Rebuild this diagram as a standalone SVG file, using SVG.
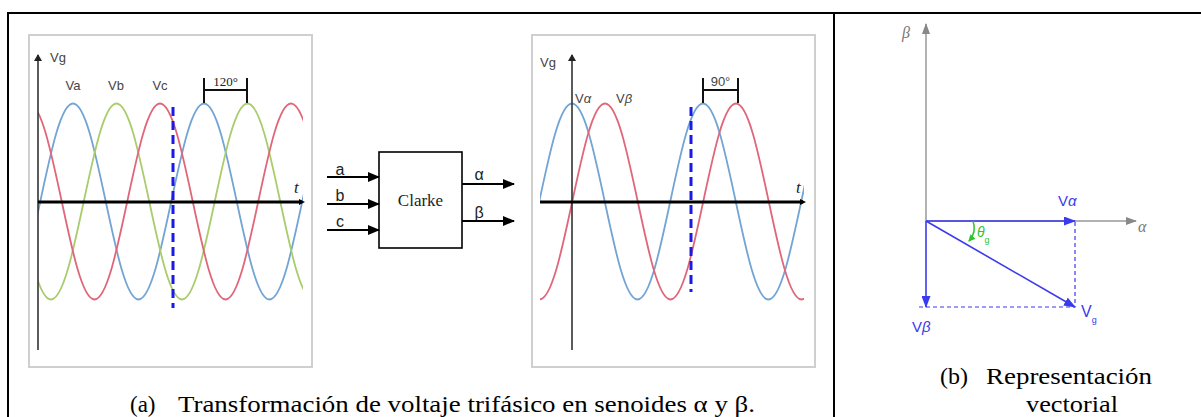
<svg xmlns="http://www.w3.org/2000/svg" xmlns:xlink="http://www.w3.org/1999/xlink" width="1201" height="417" viewBox="0 0 1201 417">
<style>
.frame{stroke:#000;stroke-width:2;fill:none}
.pbox{fill:#fff;stroke:#cfcfcf;stroke-width:2}
.wave{fill:none;stroke-width:1.8;vector-effect:non-scaling-stroke}
.sans{font-family:"Liberation Sans",Arial,sans-serif}
.serif{font-family:"Liberation Serif","Times New Roman",serif}
.lbl{font-size:13px;fill:#444}
.taxis{stroke:#000;stroke-width:3;fill:none}
.vaxis{stroke:#333;stroke-width:1.6;fill:none}
.dash{stroke:#1a1ae6;stroke-width:3;stroke-dasharray:9 5;fill:none}
.brk{stroke:#111;stroke-width:2;fill:none}
.conn{stroke:#000;stroke-width:2;fill:none}
.blue{stroke:#3a3aee;stroke-width:1.6;fill:none}
.bdash{stroke:#3a3aee;stroke-width:1.2;stroke-dasharray:4 3;fill:none}
.gaxis{stroke:#999;stroke-width:1.5;fill:none}
.cap{font-size:23px;fill:#000}
</style>
<defs>
<path id="cw" class="wave" d="M-8,-1 c0.362,0 0.666,0.475 1,1 c0.334,0.525 0.638,1 1,1 c0.362,0 0.666,-0.475 1,-1 c0.334,-0.525 0.638,-1 1,-1 c0.362,0 0.666,0.475 1,1 c0.334,0.525 0.638,1 1,1 c0.362,0 0.666,-0.475 1,-1 c0.334,-0.525 0.638,-1 1,-1 c0.362,0 0.666,0.475 1,1 c0.334,0.525 0.638,1 1,1 c0.362,0 0.666,-0.475 1,-1 c0.334,-0.525 0.638,-1 1,-1 c0.362,0 0.666,0.475 1,1 c0.334,0.525 0.638,1 1,1 c0.362,0 0.666,-0.475 1,-1 c0.334,-0.525 0.638,-1 1,-1 c0.362,0 0.666,0.475 1,1 c0.334,0.525 0.638,1 1,1 c0.362,0 0.666,-0.475 1,-1 c0.334,-0.525 0.638,-1 1,-1"/>
<clipPath id="clipL"><rect x="38" y="60" width="265" height="290"/></clipPath>
<clipPath id="clipR"><rect x="540" y="60" width="264" height="290"/></clipPath>
<marker id="aBlk" markerUnits="userSpaceOnUse" markerWidth="12" markerHeight="10" refX="11" refY="5" orient="auto"><path d="M0,0 L12,5 L0,10 z" fill="#000"/></marker>
<marker id="aAx" markerUnits="userSpaceOnUse" markerWidth="7" markerHeight="8" refX="6" refY="4" orient="auto"><path d="M0,0 L7,4 L0,8 z" fill="#222"/></marker>
<marker id="aT" markerUnits="userSpaceOnUse" markerWidth="6" markerHeight="6" refX="3" refY="3" orient="auto"><path d="M0,0 L6,3 L0,6 z" fill="#000"/></marker>
<marker id="aBlue" markerUnits="userSpaceOnUse" markerWidth="12" markerHeight="9" refX="11" refY="4.5" orient="auto"><path d="M0,0 L12,4.5 L0,9 z" fill="#3a3aee"/></marker>
<marker id="aGray" markerUnits="userSpaceOnUse" markerWidth="11" markerHeight="8" refX="10" refY="4" orient="auto"><path d="M0,0 L11,4 L0,8 z" fill="#888"/></marker>
<marker id="aGreen" markerUnits="userSpaceOnUse" markerWidth="7" markerHeight="7" refX="6" refY="3.5" orient="auto"><path d="M0,0 L7,3.5 L0,7 z" fill="#2fc42f"/></marker>
</defs>

<rect x="0" y="0" width="1201" height="417" fill="#fff"/>

<g id="frame">
<line class="frame" x1="8" y1="13" x2="1201" y2="13"/>
<line class="frame" x1="8" y1="12" x2="8" y2="417"/>
<line class="frame" x1="834" y1="12" x2="834" y2="417"/>
</g>

<g id="plot-abc">
<rect class="pbox" x="29" y="35" width="283" height="332"/>
<g clip-path="url(#clipL)">
<use xlink:href="#cw" transform="translate(73,201.5) scale(32.75,98)" stroke="#72a4d4"/>
<use xlink:href="#cw" transform="translate(116.5,201.5) scale(32.75,98)" stroke="#a9cc6c"/>
<use xlink:href="#cw" transform="translate(160,201.5) scale(32.75,98)" stroke="#e0677a"/>
</g>
<line class="vaxis" x1="38" y1="350" x2="38" y2="55" marker-end="url(#aAx)"/>
<line class="taxis" x1="38" y1="202" x2="302" y2="202" marker-end="url(#aT)"/>
<line class="dash" x1="173" y1="107" x2="173" y2="308"/>
<line class="brk" x1="204" y1="78" x2="204" y2="103"/>
<line class="brk" x1="247" y1="78" x2="247" y2="103"/>
<line class="brk" x1="204" y1="90" x2="247" y2="90"/>
<text class="serif" x="225.5" y="86" font-size="13" text-anchor="middle" fill="#222">120°</text>
<text class="sans lbl" x="50" y="62">Vg</text>
<text class="sans lbl" x="73" y="90" text-anchor="middle">Va</text>
<text class="sans lbl" x="116" y="90" text-anchor="middle">Vb</text>
<text class="sans lbl" x="160" y="90" text-anchor="middle">Vc</text>
<text class="serif" x="294" y="193" font-size="17" font-style="italic" fill="#222">t</text>
</g>

<g id="clarke">
<rect x="379" y="152" width="83" height="96" fill="#fff" stroke="#000" stroke-width="1.6"/>
<text class="serif" x="420.5" y="206" font-size="17" text-anchor="middle" fill="#222">Clarke</text>
<text class="sans" x="340" y="175" font-size="16" text-anchor="middle" fill="#222">a</text>
<text class="sans" x="340" y="201" font-size="16" text-anchor="middle" fill="#222">b</text>
<text class="sans" x="340" y="227" font-size="16" text-anchor="middle" fill="#222">c</text>
<text class="sans" x="479" y="180" font-size="16" text-anchor="middle" fill="#222">α</text>
<text class="sans" x="479" y="218" font-size="16" text-anchor="middle" fill="#222">β</text>
</g>

<g id="connectors">
<line class="conn" x1="327" y1="177" x2="379" y2="177" marker-end="url(#aBlk)"/>
<line class="conn" x1="327" y1="204" x2="379" y2="204" marker-end="url(#aBlk)"/>
<line class="conn" x1="327" y1="230" x2="379" y2="230" marker-end="url(#aBlk)"/>
<line class="conn" x1="462" y1="184" x2="514" y2="184" marker-end="url(#aBlk)"/>
<line class="conn" x1="462" y1="221" x2="514" y2="221" marker-end="url(#aBlk)"/>
</g>

<g id="plot-alphabeta">
<rect class="pbox" x="532" y="35" width="283" height="332"/>
<g clip-path="url(#clipR)">
<use xlink:href="#cw" transform="translate(572,201.5) scale(32.75,98)" stroke="#72a4d4"/>
<use xlink:href="#cw" transform="translate(605,201.5) scale(32.75,98)" stroke="#e0677a"/>
</g>
<line class="vaxis" x1="572" y1="350" x2="572" y2="55" marker-end="url(#aAx)"/>
<line class="taxis" x1="540" y1="202" x2="803" y2="202" marker-end="url(#aT)"/>
<line class="dash" x1="691" y1="107" x2="691" y2="292"/>
<line class="brk" x1="703" y1="78" x2="703" y2="103"/>
<line class="brk" x1="738" y1="78" x2="738" y2="103"/>
<line class="brk" x1="703" y1="90" x2="738" y2="90"/>
<text class="sans" x="720.5" y="86" font-size="13" text-anchor="middle" fill="#444">90°</text>
<text class="sans lbl" x="540" y="67">Vg</text>
<text class="sans lbl" x="575" y="103">V<tspan font-style="italic">α</tspan></text>
<text class="sans lbl" x="616" y="103">V<tspan font-style="italic">β</tspan></text>
<text class="serif" x="796" y="193" font-size="17" font-style="italic" fill="#222">t</text>
</g>

<g id="vector">
<line class="gaxis" x1="926" y1="221" x2="926" y2="24" marker-end="url(#aGray)"/>
<line class="gaxis" x1="926" y1="221" x2="1136" y2="221" marker-end="url(#aGray)"/>
<text class="serif" x="902" y="38" font-size="16" font-style="italic" fill="#777">β</text>
<text class="serif" x="1138" y="232" font-size="16" font-style="italic" fill="#777">α</text>
<line class="bdash" x1="1075" y1="222" x2="1075" y2="307"/>
<line class="bdash" x1="919" y1="307" x2="1075" y2="307"/>
<line class="blue" x1="926" y1="221" x2="1075" y2="221" marker-end="url(#aBlue)"/>
<line class="blue" x1="926" y1="221" x2="926" y2="307" marker-end="url(#aBlue)"/>
<line class="blue" x1="926" y1="221" x2="1075" y2="307" marker-end="url(#aBlue)"/>
<path d="M973,221 Q977,232 969,241" fill="none" stroke="#2fc42f" stroke-width="1.5" marker-end="url(#aGreen)"/>
<text class="sans" x="977" y="237" font-size="14" font-style="italic" fill="#2fc42f">θ<tspan font-size="9" dy="6" font-style="normal">g</tspan></text>
<text class="sans" x="1058" y="206" font-size="15" fill="#3a3aee">V<tspan font-style="italic">α</tspan></text>
<text class="sans" x="912" y="332" font-size="15" fill="#3a3aee">V<tspan font-style="italic">β</tspan></text>
<text class="sans" x="1081" y="317" font-size="16" fill="#3a3aee">V<tspan font-size="9" dy="6">g</tspan></text>
</g>

<g id="captions">
<text class="serif cap" x="130" y="412">(a)</text>
<text class="serif cap" x="178" y="412" textLength="577" lengthAdjust="spacingAndGlyphs">Transformación de voltaje trifásico en senoides α y β.</text>
<text class="serif cap" x="940" y="384" textLength="28" lengthAdjust="spacingAndGlyphs">(b)</text>
<text class="serif cap" x="986" y="384" textLength="166" lengthAdjust="spacingAndGlyphs">Representación</text>
<text class="serif cap" x="1026" y="412" textLength="92" lengthAdjust="spacingAndGlyphs">vectorial</text>
</g>
</svg>
